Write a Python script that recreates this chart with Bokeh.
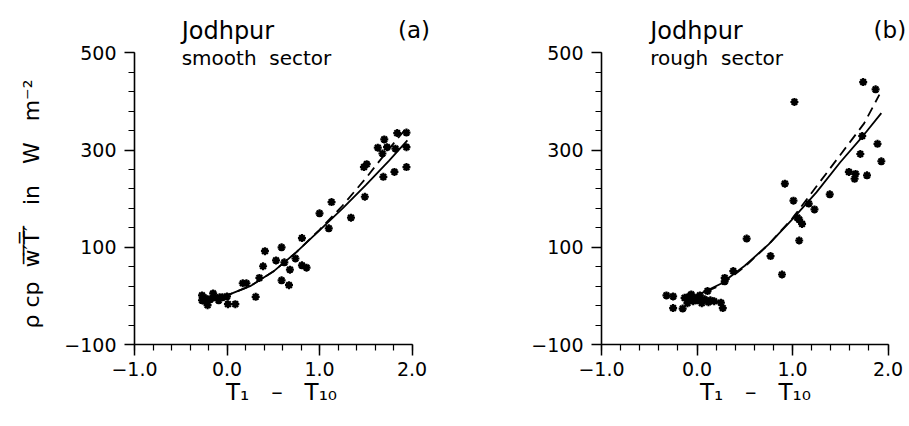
import numpy as np
from bokeh.plotting import figure
from bokeh.models import Range1d, FixedTicker, Label
from bokeh.layouts import row
from bokeh.embed import file_html
from bokeh.resources import INLINE

FONT = "DejaVu Sans"
NB = "\u00a0"
OV = "\u0305"

# ---------------- data ----------------
# panel (a): smooth sector
a_x = [-0.27, -0.27, -0.24, -0.23, -0.21, -0.18, -0.15, -0.13, -0.09, -0.08,
       -0.05, 0.00, 0.01, 0.09, 0.17, 0.21, 0.31, 0.35, 0.39, 0.41,
       0.53, 0.59, 0.59, 0.62, 0.67, 0.68, 0.74, 0.81, 0.81, 0.86,
       1.00, 1.10, 1.13, 1.34, 1.49, 1.48, 1.51, 1.63, 1.70, 1.68,
       1.73, 1.69, 1.81, 1.82, 1.84, 1.94, 1.94, 1.94]
a_y = [1, -9, -11, -5, -19, -7, 5, -3, -9, -3,
       -3, -1, -17, -17, 26, 26, -2, 37, 61, 92,
       73, 100, 32, 69, 22, 54, 77, 63, 119, 58,
       170, 139, 193, 161, 204, 265, 271, 305, 322, 293,
       306, 245, 255, 303, 335, 336, 306, 265]
a_fit_x = [-0.22, 0.0, 0.25, 0.5, 0.75, 1.0, 1.25, 1.5, 1.75, 1.95]
a_solid = [-4, 1, 20, 50, 90, 135, 180, 228, 278, 320]
a_dash_x = [-0.22, 0.0, 0.25, 0.5, 0.75, 1.0, 1.25, 1.5, 1.75, 1.92]
a_dash = [-4, 1, 20, 50, 90, 136, 186, 242, 302, 341]

# panel (b): rough sector
b_x = [-0.32, -0.25, -0.25, -0.15, -0.13, -0.10, -0.08, -0.06, -0.04, 0.01,
       0.05, 0.08, 0.11, 0.12, 0.18, 0.25, 0.27, 0.29, 0.29, 0.38,
       0.52, 0.77, 0.89, 0.92, 1.01, 1.02, 1.05, 1.07, 1.10, 1.07,
       1.17, 1.23, 1.39, 1.59, 1.66, 1.65, 1.78, 1.71, 1.73, 1.89,
       1.93, 1.74, 1.87, -0.09, 0.00, 0.03, 0.14]
b_y = [1, -1, -25, -26, -4, -15, -7, 3, -11, -3,
       -15, -7, 10, -13, -11, -14, -25, 37, 30, 51,
       118, 82, 44, 231, 196, 399, 161, 157, 148, 114,
       190, 178, 209, 255, 251, 241, 248, 292, 329, 313,
       277, 440, 425, -2, -9, 1, -9]
b_fit_x = [-0.05, 0.0, 0.25, 0.5, 0.75, 1.0, 1.25, 1.5, 1.75, 1.93]
b_solid = [-2, 1, 25, 62, 106, 158, 213, 275, 332, 376]
b_dash_x = [-0.05, 0.0, 0.25, 0.5, 0.75, 1.0, 1.25, 1.5, 1.75, 1.91]
b_dash = [-2, 1, 22, 60, 106, 160, 225, 290, 355, 414]

# ticks
x_major = [-1.0, 0.0, 1.0, 2.0]
x_labels = ["\u22121.0", "0.0", "1.0", "2.0"]
y_major = [-100, 100, 300, 500]
y_labels = ["\u2212100", "100", "300", "500"]
x_minor = [round(v, 1) for v in np.arange(-1.0, 2.001, 0.2)]
y_minor = list(range(-100, 501, 40))

site = "Jodhpur"
sectors = ["smooth" + NB * 2 + "sector", "rough" + NB * 2 + "sector"]
tags = ["(a)", "(b)"]
y_title = ("\u03c1 cp" + NB * 2 + "w" + OV + "\u2032" + OV + "T" + OV + "\u2032" + OV +
           NB * 3 + "in" + NB * 3 + "W" + NB * 3 + "m\u207b\u00b2" + NB * 9)
x_title_core = "T\u2081" + NB * 3 + "\u2013" + NB * 3 + "T\u2081\u2080"
x_titles = [x_title_core + NB * 3, x_title_core]


def make_panel(px, py, fx, fs, dx, fd, sector, tag, xt, width, border_left,
               x_end, tag_x, show_ylabel):
    p = figure(width=width, height=426,
               x_range=Range1d(-1.0, x_end), y_range=Range1d(-100, 607.8),
               output_backend="svg", toolbar_location=None,
               min_border_left=border_left, min_border_right=0,
               min_border_top=0, min_border_bottom=82)
    p.outline_line_color = None
    p.grid.visible = False

    xa = p.xaxis[0]
    ya = p.yaxis[0]
    xa.bounds = (-1.0, 2.0)
    ya.bounds = (-100, 500)
    xa.ticker = FixedTicker(ticks=x_major, minor_ticks=x_minor)
    ya.ticker = FixedTicker(ticks=y_major, minor_ticks=y_minor)
    xa.major_label_overrides = dict(zip(x_major, x_labels))
    ya.major_label_overrides = dict(zip(y_major, y_labels))
    for ax in (xa, ya):
        ax.axis_line_width = 1.6
        ax.axis_line_color = "black"
        ax.major_tick_line_width = 1.5
        ax.minor_tick_line_width = 1.2
        ax.major_tick_line_color = "black"
        ax.minor_tick_line_color = "black"
        ax.major_tick_in = 0
        ax.minor_tick_in = 0
        ax.major_label_text_font = FONT
        ax.major_label_text_font_size = "19px"
        ax.major_label_text_color = "black"
    xa.major_tick_out = 11
    xa.minor_tick_out = 6
    ya.major_tick_out = 10
    ya.minor_tick_out = 6
    xa.major_label_standoff = 6
    ya.major_label_standoff = 8

    xa.axis_label = xt
    xa.axis_label_text_font = FONT
    xa.axis_label_text_font_size = "23px"
    xa.axis_label_text_font_style = "normal"
    xa.axis_label_text_color = "black"
    xa.axis_label_standoff = 0

    if show_ylabel:
        ya.axis_label = y_title
        ya.axis_label_text_font = FONT
        ya.axis_label_text_font_size = "22px"
        ya.axis_label_text_font_style = "normal"
        ya.axis_label_text_color = "black"
        ya.axis_label_standoff = 17

    p.line(fx, fs, line_color="black", line_width=1.8)
    p.line(dx, fd, line_color="black", line_width=1.8, line_dash="10 6")
    p.scatter(px, py, marker="asterisk", size=8, line_color="black",
              line_width=2.2)

    p.add_layout(Label(x=-0.49, y=545, text=site, text_font=FONT,
                       text_font_size="24px", text_baseline="alphabetic",
                       text_color="black"))
    p.add_layout(Label(x=-0.49, y=490, text=sector, text_font=FONT,
                       text_font_size="20px", text_baseline="alphabetic",
                       text_color="black"))
    p.add_layout(Label(x=tag_x, y=547, text=tag, text_font=FONT,
                       text_font_size="23px", text_baseline="alphabetic",
                       text_align="right", text_color="black"))
    return p


pa = make_panel(a_x, a_y, a_fit_x, a_solid, a_dash_x, a_dash, sectors[0], tags[0],
                x_titles[0], 450, 134, 2.416, 2.195, True)
pb = make_panel(b_x, b_y, b_fit_x, b_solid, b_dash_x, b_dash, sectors[1], tags[1],
                x_titles[1], 459, 151, 2.225, 2.19, False)

layout = row(pa, pb)
open("out.html", "w").write(file_html(layout, INLINE))
